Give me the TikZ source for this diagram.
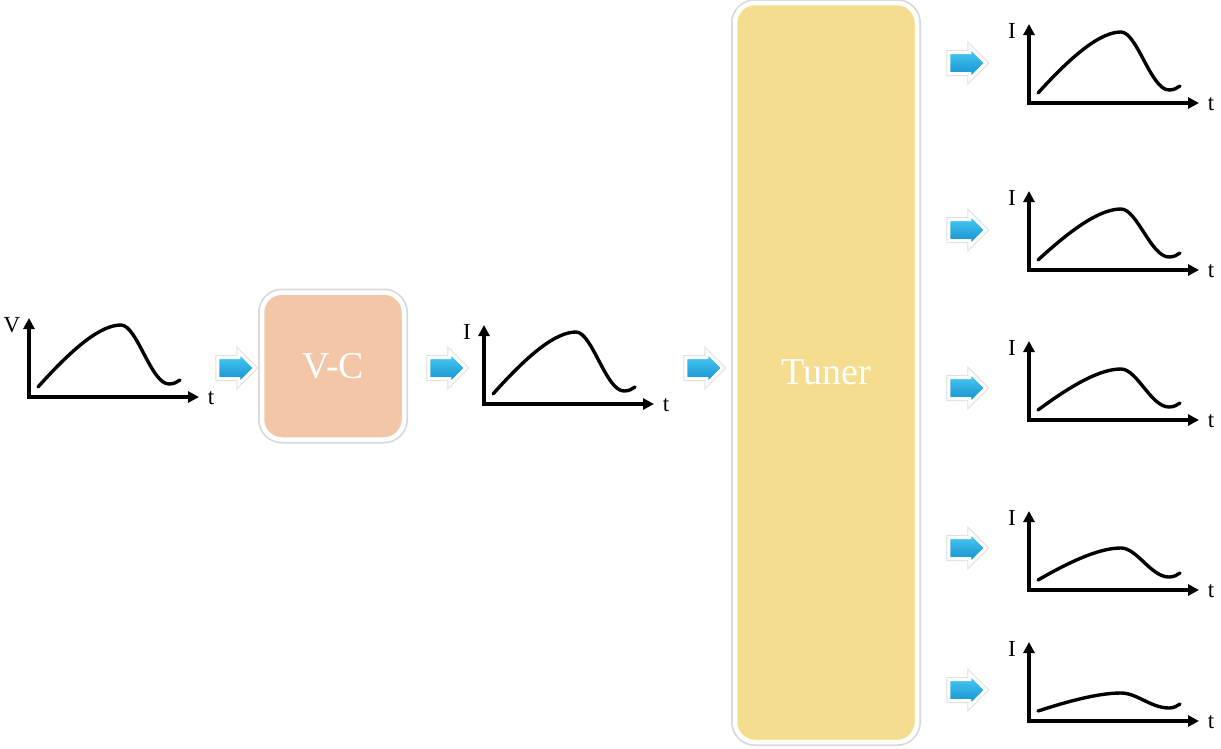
\documentclass[tikz,border=0pt]{standalone}
\usepackage{fontspec}
\setmainfont{Liberation Serif}
\usetikzlibrary{arrows.meta,shapes.arrows}

\definecolor{vcfill}{RGB}{242,198,166}
\definecolor{tunerfill}{RGB}{245,221,144}
\definecolor{flowtop}{RGB}{75,208,246}
\definecolor{flowbot}{RGB}{18,138,204}

% axes with a waveform; #1 name, #2 origin, #3 axis label, #4 peak height
\newcommand{\sigplot}[4]{%
  \begin{scope}[shift={#2}]
    \coordinate (#1-o) at (0,0);
    \coordinate (#1-y) at (0,-79);
    \coordinate (#1-x) at (170,0);
    \draw[axis] (#1-y) -- (#1-o) -- (#1-x);
    \draw[wave] (9,-10) .. controls (45,{-10-0.65*(#4-10)}) and (72,-#4) .. (92,-#4)
      .. controls (108,-#4) and (122,-13) .. (140,-13)
      .. controls (145,-13) and (148,-15) .. (151,-17);
    \node[lbl] (#1-ylab) at (-17,-72) {#3};
    \node[lbl] (#1-tlab) at (182,1) {t};
  \end{scope}}

\begin{document}
\begin{tikzpicture}[x=1pt,y=-1pt,every node/.style={inner sep=0pt},
  axis/.style={line width=3.4pt,line join=miter,
    {Triangle[length=11pt,width=11pt]}-{Triangle[length=11pt,width=11pt]}},
  wave/.style={line width=3.4pt,line cap=round},
  lbl/.style={font=\fontsize{23}{23}\selectfont},
  block/.style={rounded corners=20pt,draw=white,line width=4.5pt,
    preaction={draw=black!15,line width=8pt},
    text=white,font=\fontsize{38}{38}\selectfont},
  flow/.style={single arrow,single arrow head extend=5.5pt,
    minimum height=37pt,text height=18pt,text depth=0pt,
    top color=flowtop,bottom color=flowbot,draw=white,line width=3pt,
    preaction={draw=black!12,line width=5pt}}]
\fill[white] (0,0) rectangle (1221,748);
\useasboundingbox (0,0) rectangle (1221,748);

% input voltage and converter
\sigplot{vin}{(29,397)}{V}{72}
\node[flow] (a1) at (231,368) {};
\node[block,fill=vcfill,minimum width=142pt,minimum height=147pt] (vc) at (333,366) {V-C};
\node[flow] (a2) at (442,368) {};
\sigplot{iin}{(484,404)}{I}{72}
\node[flow] (a3) at (699,368) {};

% tuner and its outputs
\node[block,fill=tunerfill,minimum width=182pt,minimum height=739pt] (tuner) at (826,372.5) {Tuner};
\foreach \n/\oy/\h/\ay in {1/103/71/63, 2/270/61/230, 3/420/51/388, 4/590/42/548, 5/721/28/690} {
  \node[flow] (ar\n) at (962,\ay) {};
  \sigplot{r\n}{(1029,\oy)}{I}{\h}
}
\end{tikzpicture}
\end{document}
